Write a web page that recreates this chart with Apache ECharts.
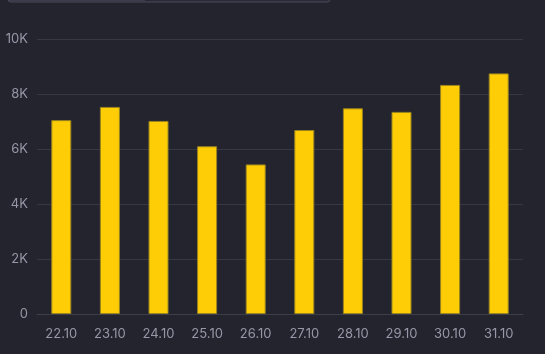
<!DOCTYPE html>
<html>
<head>
<meta charset="utf-8">
<script src="https://cdn.jsdelivr.net/npm/echarts@6/dist/echarts.min.js"></script>
<style>
html,body{margin:0;padding:0;background:#24242e;}
#c{width:545px;height:354px;}
</style>
</head>
<body>
<div id="c"></div>
<script>
const categories = ['22.10','23.10','24.10','25.10','26.10','27.10','28.10','29.10','30.10','31.10'];
const values = [7050, 7530, 7020, 6100, 5440, 6690, 7480, 7350, 8330, 8750];
const yTicks = { min: 0, max: 10000, interval: 2000 };

const chart = echarts.init(document.getElementById('c'), null, {renderer: 'canvas'});
chart.setOption({
  backgroundColor: '#24242e',
  animation: false,
  graphic: [
    { type: 'rect', shape: { x: 8, y: -10, width: 322, height: 12, r: 3 },
      style: { fill: '#2a2a36', stroke: '#4a4a5a', lineWidth: 1 } },
    { type: 'rect', shape: { x: 9, y: -10, width: 136, height: 11 },
      style: { fill: '#3c3c4c' } }
  ],
  grid: { left: 37, right: 22, top: 39, bottom: 40 },
  xAxis: {
    type: 'category',
    data: categories,
    axisLine: { lineStyle: { color: '#3e3e48', width: 1 } },
    axisTick: { show: false },
    axisLabel: { color: '#9797a8', fontSize: 13, fontFamily: 'Inter', margin: 14 }
  },
  yAxis: {
    type: 'value',
    min: yTicks.min, max: yTicks.max, interval: yTicks.interval,
    axisLine: { show: false },
    axisTick: { show: false },
    splitLine: { lineStyle: { color: '#383842', width: 1 } },
    axisLabel: {
      color: '#9797a8', fontSize: 13, fontFamily: 'Inter', margin: 9,
      formatter: v => v === 0 ? '0' : (v / 1000) + 'K'
    }
  },
  series: [{
    type: 'bar',
    data: values,
    barWidth: 20,
    itemStyle: { color: '#ffcd05', borderColor: '#9a8420', borderWidth: 1 }
  }]
});
</script>
</body>
</html>
